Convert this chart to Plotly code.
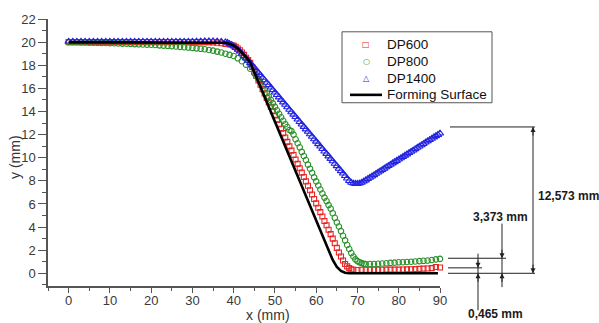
import plotly.graph_objects as go

# ---------------- data ----------------
surf_x = [0, 36, 38, 39, 40, 41, 42, 43, 44, 45, 46, 48, 50, 52, 54, 56, 58, 60, 62, 63, 64, 65, 66, 67, 68, 70, 89.5]
surf_y = [20, 20, 19.95, 19.85, 19.7, 19.45, 19.1, 18.7, 18.25, 17.42, 16.56, 14.83, 13.1, 11.37, 9.65, 7.92,
          6.19, 4.46, 2.74, 1.9, 1.15, 0.55, 0.2, 0.05, 0, 0, 0]

dp600_x = [0, 1, 2, 3, 4, 5, 6, 7, 8, 9, 10, 11, 12, 13, 14, 15, 16, 17, 18, 19, 20, 21, 22, 23, 24, 25, 26, 27,
           28, 29, 30, 31, 32, 33, 34, 35, 36, 37, 38, 39, 40, 40.5, 41, 41.5, 42, 42.5, 43, 43.5, 44, 44.5,
           45, 45.5, 46, 46.5, 47, 47.5, 48, 48.5, 49, 49.5, 50, 50.5, 51, 51.5, 52, 52.5, 53, 53.5, 54, 54.5,
           55, 55.5, 56, 56.5, 57, 57.5, 58, 58.5, 59, 59.5, 60, 60.5, 61, 61.5, 62, 62.5, 63, 63.5, 64, 64.5,
           65, 65.5, 66, 66.5, 67, 67.5, 68, 68.5, 69, 70, 71, 72, 73, 74, 75, 76, 77, 78, 79, 80, 81, 82, 83,
           84, 85, 86, 87, 88, 89, 90, 90.5]
dp600_y = [20, 20, 20, 20, 20, 20, 20, 20, 20, 20, 20, 20, 20, 20, 20, 20, 20, 20, 20, 20, 20, 20, 20, 20, 20,
           20, 20, 20, 20, 20, 20, 20, 20, 20, 20, 19.98, 19.95, 19.9, 19.85, 19.8, 19.7, 19.6, 19.45, 19.3,
           19.1, 18.9, 18.65, 18.45, 18.2, 17.85, 17.45, 17.07, 16.69, 16.31, 15.93, 15.55, 15.17, 14.79,
           14.41, 14.03, 13.65, 13.27, 12.89, 12.51, 12.13, 11.75, 11.37, 10.99, 10.61, 10.23, 9.85, 9.47,
           9.09, 8.71, 8.33, 7.95, 7.57, 7.19, 6.81, 6.43, 6.05, 5.67, 5.29, 4.91, 4.53, 4.15, 3.77, 3.39,
           3.0, 2.6, 2.2, 1.8, 1.45, 1.1, 0.8, 0.6, 0.45, 0.35, 0.3, 0.28, 0.3, 0.3, 0.3, 0.3, 0.31, 0.31,
           0.32, 0.32, 0.32, 0.32, 0.33, 0.34, 0.35, 0.36, 0.38, 0.4, 0.42, 0.45, 0.55, 0.5, 0.47]

dp800_x = [0, 1, 2, 3, 4, 5, 6, 7, 8, 9, 10, 11, 12, 13, 14, 15, 16, 17, 18, 19, 20, 21, 22, 23, 24, 25, 26, 27,
           28, 29, 30, 31, 32, 33, 34, 35, 36, 37, 38, 39, 40, 41, 42, 43, 44, 45, 45.5, 46, 46.5, 47, 47.5,
           48, 48.5, 49, 49.5, 50, 50.5, 51, 51.5, 52, 52.5, 53, 53.5, 54, 54.5, 55, 55.5, 56, 56.5, 57, 57.5,
           58, 58.5, 59, 59.5, 60, 60.5, 61, 61.5, 62, 62.5, 63, 63.5, 64, 64.5, 65, 65.5, 66, 66.5, 67, 67.5,
           68, 68.5, 69, 69.5, 70, 70.5, 71, 71.5, 72, 73, 74, 75, 76, 77, 78, 79, 80, 81, 82, 83, 84, 85, 86,
           87, 88, 89, 90, 90.7]
dp800_y = [20, 20, 19.99, 19.98, 19.97, 19.96, 19.95, 19.94, 19.93, 19.92, 19.91, 19.9, 19.88, 19.87,
           19.86, 19.85, 19.83, 19.81, 19.8, 19.78, 19.77, 19.75, 19.72, 19.7, 19.68, 19.65, 19.62, 19.59,
           19.56, 19.53, 19.5, 19.46, 19.42, 19.38, 19.32, 19.26, 19.18, 19.1, 19.0, 18.9, 18.8, 18.6, 18.35,
           18.05, 17.7, 17.3, 17.05, 16.8, 16.5, 16.2, 15.9, 15.6, 15.3, 15.0, 14.7, 14.4, 14.1, 13.8, 13.5,
           13.2, 12.9, 12.65, 12.4, 12.3, 12.0, 11.6, 11.25, 10.9, 10.5, 10.15, 9.8, 9.4, 9.05, 8.7, 8.3,
           7.95, 7.6, 7.25, 6.9, 6.55, 6.25, 5.9, 5.6, 5.2, 4.8, 4.4, 4.05, 3.65, 3.25, 2.85, 2.45, 2.1, 1.75,
           1.45, 1.2, 1.05, 0.95, 0.88, 0.83, 0.8, 0.8, 0.8, 0.82, 0.85, 0.87, 0.9, 0.92, 0.95, 0.96, 0.98,
           1.0, 1.02, 1.05, 1.08, 1.1, 1.15, 1.2, 1.25, 1.3]

dp1400_x = [0, 1, 2, 3, 4, 5, 6, 7, 8, 9, 10, 11, 12, 13, 14, 15, 16, 17, 18, 19, 20, 21, 22, 23, 24, 25, 26,
            27, 28, 29, 30, 31, 32, 33, 34, 35, 36, 37, 38, 38.5, 39, 39.5, 40, 40.5, 41, 41.5, 42, 42.5, 43,
            43.5, 44, 44.5, 45, 45.5, 46, 46.5, 47, 47.5, 48, 48.5, 49, 49.5, 50, 50.5, 51, 51.5, 52, 52.5, 53,
            53.5, 54, 54.5, 55, 55.5, 56, 56.5, 57, 57.5, 58, 58.5, 59, 59.5, 60, 60.5, 61, 61.5, 62, 62.5, 63,
            63.5, 64, 64.5, 65, 65.5, 66, 66.5, 67, 67.5, 68, 68.5, 69, 69.5, 70, 70.5, 71, 71.5, 72, 72.5, 73,
            73.5, 74, 74.5, 75, 75.5, 76, 76.5, 77, 77.5, 78, 78.5, 79, 79.5, 80, 80.5, 81, 81.5, 82, 82.5, 83,
            83.5, 84, 84.5, 85, 85.5, 86, 86.5, 87, 87.5, 88, 88.5, 89, 89.5, 90, 90.5, 91, 91.5, 92, 92.5]
dp1400_y = [20.05, 20.05, 20.05, 20.05, 20.05, 20.05, 20.05, 20.05, 20.05, 20.05, 20.05, 20.05, 20.05, 20.05,
            20.05, 20.05, 20.05, 20.05, 20.05, 20.05, 20.05, 20.05, 20.05, 20.05, 20.05, 20.05, 20.05, 20.05,
            20.05, 20.05, 20.05, 20.06, 20.07, 20.08, 20.08, 20.08, 20.07, 20.05, 20.0, 19.95, 19.85, 19.75,
            19.65, 19.5, 19.35, 19.2, 19.0, 18.8, 18.6, 18.4, 18.2, 17.99, 17.78, 17.56, 17.35, 17.14, 16.93,
            16.71, 16.5, 16.29, 16.08, 15.86, 15.65, 15.44, 15.23, 15.01, 14.8, 14.59, 14.38, 14.16, 13.95,
            13.74, 13.53, 13.31, 13.1, 12.89, 12.68, 12.46, 12.25, 12.04, 11.83, 11.61, 11.4, 11.19, 10.98,
            10.76, 10.55, 10.34, 10.13, 9.91, 9.7, 9.49, 9.28, 9.06, 8.85, 8.64, 8.43, 8.21, 8.0, 7.85, 7.78,
            7.75, 7.75, 7.78, 7.85, 7.95, 8.05, 8.17, 8.28, 8.39, 8.5, 8.62, 8.73, 8.84, 8.95, 9.07, 9.18,
            9.29, 9.4, 9.52, 9.63, 9.74, 9.85, 9.97, 10.08, 10.19, 10.3, 10.42, 10.53, 10.64, 10.75, 10.87,
            10.98, 11.09, 11.2, 11.32, 11.43, 11.54, 11.65, 11.77, 11.88, 11.99, 12.1, 12.22, 12.33, 12.44,
            12.55, 12.66]

series_names = ["DP600", "DP800", "DP1400", "Forming Surface"]
dim_labels = ["12,573 mm", "3,373 mm", "0,465 mm"]

# ---------------- figure ----------------
Y_MIN, Y_MAX = -1.1, 22
X_MIN, X_MAX = -5, 90
FONT = "Liberation Sans, Arial, sans-serif"
W, H = 599, 323
PLOT_L, PLOT_R, PLOT_T, PLOT_B = 48, 440, 15, 286

RED = "rgb(232,36,36)"
GREEN = "rgb(40,145,40)"
BLUE = "rgb(35,35,225)"

fig = go.Figure()
fig.add_trace(go.Scatter(x=dp600_x, y=dp600_y, mode="markers", name=series_names[0], cliponaxis=False,
                         marker=dict(symbol="square-open", size=5, color=RED, line=dict(width=1.1))))
fig.add_trace(go.Scatter(x=dp800_x, y=dp800_y, mode="markers", name=series_names[1], cliponaxis=False,
                         marker=dict(symbol="circle-open", size=5.5, color=GREEN, line=dict(width=1.1))))
fig.add_trace(go.Scatter(x=dp1400_x, y=dp1400_y, mode="markers", name=series_names[2], cliponaxis=False,
                         marker=dict(symbol="triangle-up-open", size=6.5, color=BLUE, line=dict(width=1.1))))
fig.add_trace(go.Scatter(x=surf_x, y=surf_y, mode="lines", name=series_names[3],
                         line=dict(color="black", width=2.6)))


def py(v):
    return (v - Y_MIN) / (Y_MAX - Y_MIN)


def pyp(pix):
    return (PLOT_B - pix) / (PLOT_B - PLOT_T)


def px(pix):
    return (pix - PLOT_L) / (PLOT_R - PLOT_L)


blue_end = dp1400_y[-1]
green_end = dp800_y[-1]
red_end = dp600_y[-1]
zero = surf_y[-1]

shapes = []
line_style = dict(color="#222", width=1)


def hline(x0, x1, yv):
    shapes.append(dict(type="line", xref="paper", yref="paper", x0=px(x0), x1=px(x1), y0=py(yv), y1=py(yv), line=line_style))


def vline(xp, y0, y1):
    shapes.append(dict(type="line", xref="paper", yref="paper", x0=px(xp), x1=px(xp), y0=py(y0), y1=py(y1), line=line_style))


# extension lines
hline(450, 535, blue_end)
hline(448, 535, zero)
hline(448, 506, green_end)
hline(448, 482, red_end)
# vertical dimension lines
vline(533, zero, blue_end)
vline(502, -1.2, 4.3)
vline(478, -3.2, 1.7)

annotations = []


def arrow(xp, yv, ay):
    annotations.append(dict(xref="paper", yref="paper", x=px(xp), y=py(yv), ax=0, ay=ay, text="",
                            showarrow=True, arrowhead=2, arrowsize=1, arrowwidth=1, arrowcolor="#222"))


arrow(533, blue_end, 10)
arrow(533, zero, -10)
arrow(502, green_end, -10)
arrow(502, zero, 10)
arrow(478, red_end, -9)
arrow(478, zero, 10)

bold = dict(family=FONT, size=12, color="#1a1a1a")
annotations.append(dict(xref="paper", yref="paper", x=px(536), y=py(6.65), text="<b>" + dim_labels[0] + "</b>",
                        showarrow=False, xanchor="left", yanchor="middle", font=bold))
annotations.append(dict(xref="paper", yref="paper", x=px(501), y=py(4.9), text="<b>" + dim_labels[1] + "</b>",
                        showarrow=False, xanchor="center", yanchor="middle", font=bold))
annotations.append(dict(xref="paper", yref="paper", x=px(495), y=pyp(314), text="<b>" + dim_labels[2] + "</b>",
                        showarrow=False, xanchor="center", yanchor="middle", font=bold))
# axis titles
annotations.append(dict(xref="paper", yref="paper", x=px(268), y=pyp(315.5), text="x (mm)", showarrow=False,
                        xanchor="center", yanchor="middle", font=dict(family=FONT, size=14, color="#333")))
annotations.append(dict(xref="paper", yref="paper", x=px(15), y=pyp(155), text="y (mm)", showarrow=False,
                        textangle=-90, xanchor="center", yanchor="middle", font=dict(family=FONT, size=14, color="#333")))

# manual legend (box, symbols, labels)
LEG_L, LEG_R, LEG_T, LEG_B = 342, 492, 28, 100
shapes.append(dict(type="rect", xref="paper", yref="paper", x0=px(LEG_L), x1=px(LEG_R), y0=pyp(LEG_B), y1=pyp(LEG_T),
                   line=dict(color="#555", width=1), fillcolor="white", layer="above"))
rows = [41, 58, 75, 92]
legend_syms = ["\u25a1", "\u25cb", "\u25b3"]
legend_cols = [RED, GREEN, BLUE]
for i in range(3):
    annotations.append(dict(xref="paper", yref="paper", x=px(366), y=pyp(rows[i]), text=legend_syms[i],
                            showarrow=False, xanchor="center", yanchor="middle",
                            font=dict(family="DejaVu Sans", size=8, color=legend_cols[i])))
shapes.append(dict(type="line", xref="paper", yref="paper", x0=px(350), x1=px(382), y0=pyp(rows[3]), y1=pyp(rows[3]),
                   line=dict(color="black", width=2.6), layer="above"))
for i in range(4):
    annotations.append(dict(xref="paper", yref="paper", x=px(385), y=pyp(rows[i]), text=series_names[i],
                            showarrow=False, xanchor="left", yanchor="middle",
                            font=dict(family=FONT, size=13.5, color="#111")))

axis_common = dict(showline=True, linecolor="#555", linewidth=1.5, ticks="outside", tickwidth=1.3,
                   tickcolor="#555", showgrid=False, zeroline=False, mirror=False,
                   tickfont=dict(family=FONT, size=13, color="#3a3a3a"))

fig.update_layout(
    width=W, height=H,
    margin=dict(l=PLOT_L, r=W - PLOT_R, t=PLOT_T, b=H - PLOT_B),
    paper_bgcolor="white", plot_bgcolor="white",
    xaxis=dict(range=[X_MIN, X_MAX], tick0=0, dtick=10, ticklen=5, ticklabelstandoff=-3,
               minor=dict(ticks="outside", ticklen=3, tickcolor="#555", dtick=5, tick0=0), **axis_common),
    yaxis=dict(range=[Y_MIN, Y_MAX], tick0=0, dtick=2, ticklen=8,
               minor=dict(ticks="outside", ticklen=4, tickcolor="#555", dtick=1, tick0=0), **axis_common),
    shapes=shapes, annotations=annotations, showlegend=False,
)

fig.write_html("out.html", config={"displayModeBar": False},
               post_script="document.body.style.margin='0';document.body.style.overflow='hidden';")
